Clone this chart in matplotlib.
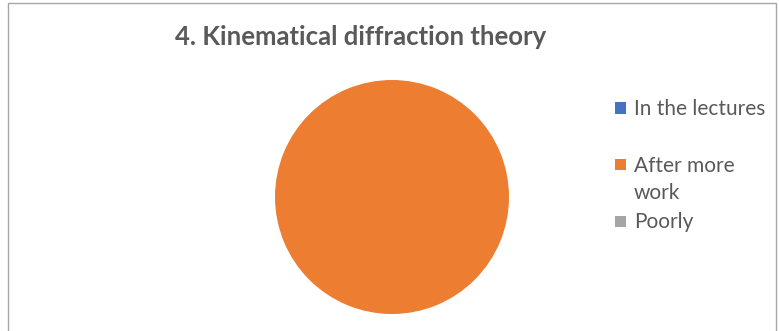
import matplotlib
matplotlib.use("Agg")
import matplotlib.pyplot as plt
from matplotlib.patches import Rectangle

title = "4. Kinematical diffraction theory"
categories = ["In the lectures", "After more\nwork", "Poorly"]
values = [0, 1, 0]
colors = ["#4472C4", "#ED7D31", "#A5A5A5"]

W, H = 779, 331
fig = plt.figure(figsize=(W / 100, H / 100), dpi=100)
plt.rcParams['font.family'] = ['Lato', 'DejaVu Sans']

# outer chart border (bottom edge is cut off in the reference)
fig.patches.append(Rectangle((8 / W, -0.1), (776 - 8) / W, (H - 3) / H + 0.1,
                             transform=fig.transFigure, fill=False,
                             edgecolor="#A6A6A6", linewidth=1.0))

fig.text(361 / W, 1 - 37 / H, title, ha="center", va="center",
         fontsize=18.5, fontweight="bold", color="#595959")

cx, cy, r = 392, 197, 117
ax = fig.add_axes([(cx - r) / W, 1 - (cy + r) / H, 2 * r / W, 2 * r / H])
ax.pie(values, colors=colors, startangle=90, counterclock=False,
       wedgeprops=dict(linewidth=0))
ax.set_aspect("equal")
ax.set_xlim(-1, 1)
ax.set_ylim(-1, 1)

# legend: entries start at equally spaced slots
c0, step, line_h = 108, 56.5, 27
for i, (lab, col) in enumerate(zip(categories, colors)):
    yc = c0 + i * step
    fig.patches.append(Rectangle((615 / W, 1 - (yc + 5.5) / H), 11 / W, 11 / H,
                                 transform=fig.transFigure, facecolor=col,
                                 edgecolor="none"))
    for k, line in enumerate(lab.split("\n")):
        fig.text(634 / W, 1 - (yc + 7.5 + k * line_h) / H, line, ha="left",
                 va="baseline", fontsize=15, color="#595959")

fig.savefig("out.png", dpi=100)
